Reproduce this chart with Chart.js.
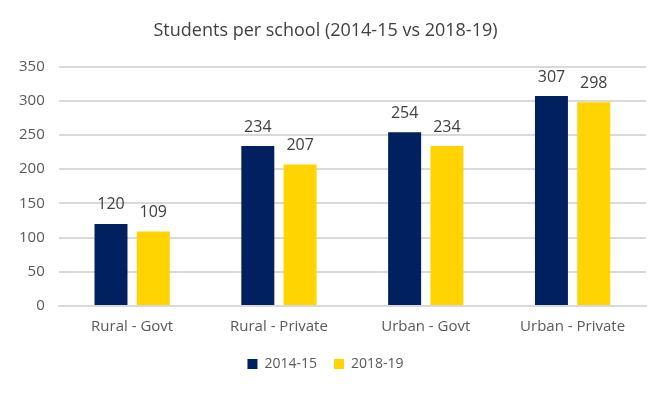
<!DOCTYPE html>
<html>
<head>
<meta charset="utf-8">
<script src="https://cdn.jsdelivr.net/npm/chart.js@4"></script>
<style>
  html, body { margin: 0; padding: 0; background: #fff; }
  #wrap { width: 668px; height: 393px; }
</style>
</head>
<body>
<div id="wrap"><canvas id="chart"></canvas></div>
<script>
const categories = ['Rural - Govt', 'Rural - Private', 'Urban - Govt', 'Urban - Private'];
const series2014 = [120, 234, 254, 307];
const series2018 = [109, 207, 234, 298];
const seriesNames = ['2014-15', '2018-19'];

const FONT = "'Open Sans', sans-serif";

// draws the value above each bar
const barLabels = {
    id: 'barLabels',
    afterDatasetsDraw(chart) {
        const ctx = chart.ctx;
        ctx.save();
        ctx.font = '16px ' + FONT;
        ctx.fillStyle = '#404040';
        ctx.textAlign = 'center';
        ctx.textBaseline = 'bottom';
        chart.data.datasets.forEach((ds, i) => {
            chart.getDatasetMeta(i).data.forEach((bar, j) => {
                ctx.fillText(ds.data[j], bar.x, bar.y - 11);
            });
        });
        ctx.restore();
    }
};

new Chart(document.getElementById('chart'), {
    type: 'bar',
    data: {
        labels: categories,
        datasets: [
            { label: seriesNames[0], data: series2014, backgroundColor: '#002060' },
            { label: seriesNames[1], data: series2018, backgroundColor: '#FFD400' }
        ]
    },
    options: {
        responsive: true,
        maintainAspectRatio: false,
        animation: false,
        categoryPercentage: 0.576,
        barPercentage: 0.78,
        layout: { padding: { left: 5, right: 22, top: 0, bottom: 12 } },
        scales: {
            x: {
                grid: { display: false },
                border: { color: '#d9d9d9', width: 2 },
                ticks: { color: '#595959', font: { family: FONT, size: 15 }, padding: 4 }
            },
            y: {
                min: 0,
                max: 350,
                ticks: { stepSize: 50, color: '#595959', font: { family: FONT, size: 15 }, padding: 14 },
                grid: { color: '#d9d9d9', lineWidth: 2, drawTicks: false },
                border: { display: false }
            }
        },
        plugins: {
            title: {
                display: true,
                text: 'Students per school (2014-15 vs 2018-19)',
                color: '#404040',
                font: { family: FONT, size: 18, weight: 'normal' },
                padding: { top: 20, bottom: 25 }
            },
            legend: {
                position: 'bottom',
                labels: {
                    color: '#595959',
                    font: { family: FONT, size: 14 },
                    boxWidth: 10,
                    boxHeight: 10,
                    padding: 17
                }
            },
            tooltip: { enabled: false }
        }
    },
    plugins: [barLabels]
});
</script>
</body>
</html>
